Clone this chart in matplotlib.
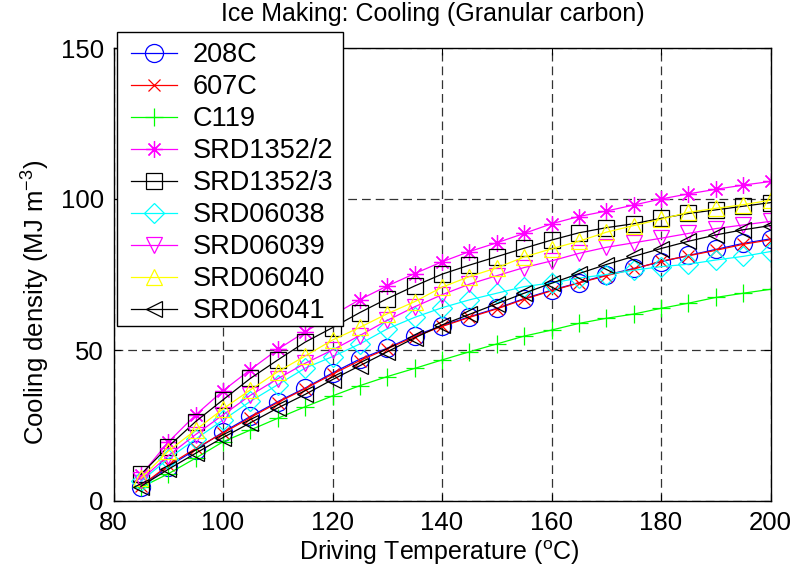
import matplotlib
matplotlib.use("Agg")
import matplotlib.pyplot as plt
from matplotlib.patches import Rectangle

FONT = "Liberation Sans"
plt.rcParams['font.family'] = [FONT, 'DejaVu Sans']
plt.rcParams['mathtext.fontset'] = 'custom'
plt.rcParams['mathtext.rm'] = FONT

temps = [85, 90, 95, 100, 105, 110, 115, 120, 125, 130, 135, 140,
         145, 150, 155, 160, 165, 170, 175, 180, 185, 190, 195, 200]

s208C = [4.8, 11.4, 17.0, 22.8, 28.0, 32.9, 37.4, 42.4, 47.0, 50.6, 54.8, 58.0,
         61.0, 63.8, 67.0, 69.8, 72.3, 74.8, 77.0, 79.2, 81.3, 83.3, 85.3, 86.8]
s607C = [5.0, 11.8, 17.4, 22.5, 27.6, 32.6, 37.2, 42.0, 46.5, 50.4, 54.4, 57.8,
         60.8, 63.6, 66.8, 69.6, 72.2, 74.6, 76.8, 79.4, 81.2, 83.0, 85.0, 86.5]
sC119 = [4.5, 9.0, 14.2, 19.6, 23.5, 27.4, 31.2, 34.8, 38.2, 41.2, 43.9, 46.7,
         49.4, 52.0, 54.6, 56.6, 58.8, 60.5, 61.9, 63.8, 65.5, 67.4, 68.8, 70.1]
sSRD1352_2 = [8.5, 19.5, 28.5, 36.5, 43.5, 50.2, 56.0, 61.5, 66.7, 71.2, 75.3, 79.2,
              82.6, 85.5, 88.6, 91.8, 94.2, 96.0, 98.0, 100.0, 101.7, 103.2, 104.6, 105.8]
sSRD1352_3 = [8.8, 18.0, 26.3, 33.5, 40.6, 46.7, 52.6, 57.4, 62.4, 67.0, 71.2, 75.1,
              78.1, 80.9, 83.7, 86.4, 88.8, 90.5, 91.8, 93.6, 95.2, 96.4, 97.6, 98.8]
sSRD06038 = [6.5, 14.0, 20.5, 26.8, 33.0, 38.5, 44.0, 47.8, 52.0, 57.0, 60.8, 64.0,
             66.6, 68.8, 71.0, 72.2, 73.8, 75.0, 76.4, 77.6, 78.4, 79.8, 81.0, 82.6]
sSRD06039 = [7.0, 15.0, 22.0, 28.5, 35.0, 40.5, 45.6, 50.0, 54.8, 59.8, 64.3, 68.3,
             71.8, 74.6, 77.3, 79.5, 82.0, 84.0, 85.5, 87.0, 88.6, 90.2, 91.4, 92.6]
sSRD06040 = [7.5, 16.5, 23.5, 30.5, 36.8, 42.8, 48.0, 53.3, 57.5, 62.0, 66.0, 70.8,
             74.3, 77.2, 80.8, 83.5, 86.0, 89.0, 91.2, 93.3, 95.6, 96.9, 98.1, 99.6]
sSRD06041 = [4.8, 10.5, 15.8, 21.0, 25.9, 30.8, 35.3, 40.2, 44.8, 49.4, 54.0, 58.3,
             61.8, 65.3, 68.8, 72.1, 75.3, 78.3, 81.0, 83.6, 86.0, 88.1, 89.8, 91.2]

labels = ['208C', '607C', 'C119', 'SRD1352/2', 'SRD1352/3',
          'SRD06038', 'SRD06039', 'SRD06040', 'SRD06041']
series = [s208C, s607C, sC119, sSRD1352_2, sSRD1352_3,
          sSRD06038, sSRD06039, sSRD06040, sSRD06041]
colors = ['#0000ff', '#ff0000', '#00ff00', '#ff00ff', '#000000',
          '#00ffff', '#ff00ff', '#ffff00', '#000000']
markers = ['o', 'x', '+', (8, 2, 0), 's', 'D', 'v', '^', '<']
msizes = [13, 8, 13, 12, 11, 10, 12, 12, 12]

xticks = [80, 100, 120, 140, 160, 180, 200]
yticks = [0, 50, 100, 150]

W, H = 799, 580
fig = plt.figure(figsize=(W / 100, H / 100), dpi=100)
ax = fig.add_axes([113.5 / W, 1 - 501 / H, (770.5 - 113.5) / W, (501 - 48) / H])

for lab, y, c, m, ms in zip(labels, series, colors, markers, msizes):
    ax.plot(temps, y, color=c, marker=m, markersize=ms, markerfacecolor='none',
            markeredgecolor=c, markeredgewidth=0.9, linewidth=0.9, label=lab)

ax.set_xlim(80, 200)
ax.set_ylim(0, 150)
ax.set_xticks(xticks)
ax.set_yticks(yticks)
ax.grid(True, color='0.2', linestyle=(0, (7, 4)), linewidth=0.9)
ax.tick_params(direction='in', top=True, right=True, length=5, width=0.8,
               labelsize=18.5, pad=7)
for sp in ax.spines.values():
    sp.set_linewidth(1.0)
    sp.set_color('black')

fig.text(433 / W, 1 - 14 / H, 'Ice Making: Cooling (Granular carbon)',
         fontsize=18, ha='center', va='center')
fig.text(439 / W, 1 - 553 / H, r'Driving Temperature ($^{\mathregular{o}}$C)',
         fontsize=18, ha='center', va='center')
fig.text(35 / W, 1 - 302 / H, r'Cooling density (MJ m$^{\mathregular{-3}}$)',
         fontsize=18.5, ha='center', va='center', rotation=90)

# legend box (frame drawn separately so padding matches the reference)
box = Rectangle((117 / W, 1 - 326 / H), (343 - 117) / W, (326 - 32) / H,
                transform=fig.transFigure, facecolor='white', edgecolor='black',
                linewidth=1.0, zorder=4, clip_on=False)
ax.add_artist(box)
leg = ax.legend(loc='upper left', bbox_to_anchor=(131 / W, 1 - 42.5 / H),
                bbox_transform=fig.transFigure, borderaxespad=0, fontsize=19.5,
                frameon=False, handlelength=1.70, handletextpad=0.59,
                labelspacing=0.22, borderpad=0)
leg.set_zorder(5)

fig.savefig('out.png', dpi=100)
